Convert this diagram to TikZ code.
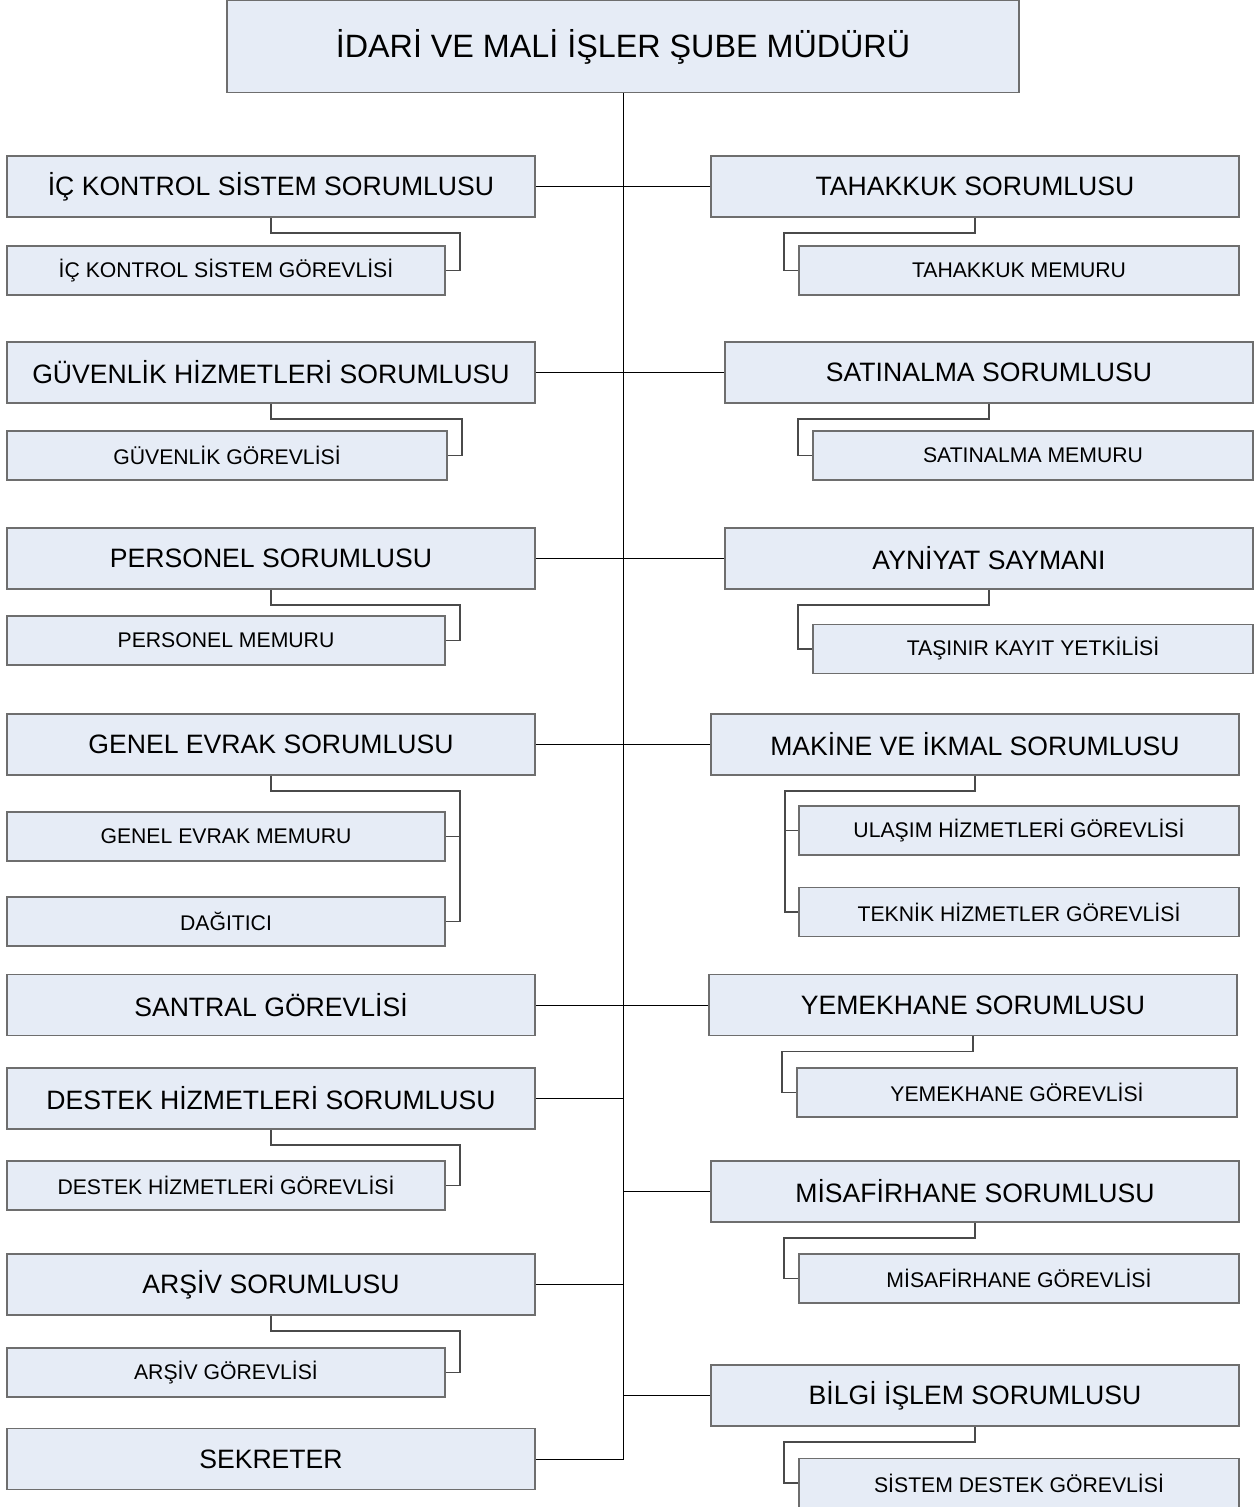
\documentclass[tikz,border=0pt]{standalone}
\usepackage{fontspec}
\setmainfont{Liberation Sans}
\definecolor{boxfill}{HTML}{E6ECF6}
\definecolor{boxline}{HTML}{6E6E6E}
\definecolor{connline}{HTML}{4A4A4A}
\begin{document}
\begin{tikzpicture}[x=1pt,y=-1pt,
  base/.style={draw=boxline,fill=boxfill,line width=1.6pt,inner sep=0pt,align=center},
  topbox/.style={base,minimum width=792pt,minimum height=92pt,font=\fontsize{32.3}{36}\selectfont},
  bigbox/.style={base,minimum width=528pt,minimum height=61pt,font=\fontsize{26.6}{30}\selectfont},
  smallbox/.style={base,minimum width=438pt,minimum height=49pt,font=\fontsize{21.2}{24}\selectfont},
  conn/.style={draw=connline,line width=1.5pt},
  trunk/.style={draw=black,line width=0.9pt}]
\useasboundingbox (0,0) rectangle (1254,1507);

% top
\node[topbox] (top) at (623,46.5) {İDARİ VE MALİ İŞLER ŞUBE MÜDÜRÜ};

% left column
\node[bigbox] (l1) at (271,186.5) {İÇ KONTROL SİSTEM SORUMLUSU};
\node[smallbox] (ls1) at (226,270.5) {İÇ KONTROL SİSTEM GÖREVLİSİ};
\node[bigbox] (l2) at (271,372.5) {GÜVENLİK HİZMETLERİ SORUMLUSU};
\node[smallbox,minimum width=440pt] (ls2) at (227,455.5) {GÜVENLİK GÖREVLİSİ};
\node[bigbox] (l3) at (271,558.5) {PERSONEL SORUMLUSU};
\node[smallbox] (ls3) at (226,640.5) {PERSONEL MEMURU};
\node[bigbox] (l4) at (271,744.5) {GENEL EVRAK SORUMLUSU};
\node[smallbox] (ls4a) at (226,836.5) {GENEL EVRAK MEMURU};
\node[smallbox] (ls4b) at (226,921.5) {DAĞITICI};
\node[bigbox] (l5) at (271,1005) {SANTRAL GÖREVLİSİ};
\node[bigbox] (l6) at (271,1098.5) {DESTEK HİZMETLERİ SORUMLUSU};
\node[smallbox] (ls6) at (226,1185.5) {DESTEK HİZMETLERİ GÖREVLİSİ};
\node[bigbox] (l7) at (271,1284.5) {ARŞİV SORUMLUSU};
\node[smallbox] (ls7) at (226,1372.5) {ARŞİV GÖREVLİSİ};
\node[bigbox] (l8) at (271,1459) {SEKRETER};

% right column
\node[bigbox] (r1) at (975,186.5) {TAHAKKUK SORUMLUSU};
\node[smallbox,minimum width=440pt] (rs1) at (1019,270.5) {TAHAKKUK MEMURU};
\node[bigbox] (r2) at (989,372.5) {SATINALMA SORUMLUSU};
\node[smallbox,minimum width=440pt] (rs2) at (1033,455.5) {SATINALMA MEMURU};
\node[bigbox] (r3) at (989,558.5) {AYNİYAT SAYMANI};
\node[smallbox,minimum width=440pt] (rs3) at (1033,649) {TAŞINIR KAYIT YETKİLİSİ};
\node[bigbox] (r4) at (975,744.5) {MAKİNE VE İKMAL SORUMLUSU};
\node[smallbox,minimum width=440pt] (rs4a) at (1019,830.5) {ULAŞIM HİZMETLERİ GÖREVLİSİ};
\node[smallbox,minimum width=440pt] (rs4b) at (1019,912) {TEKNİK HİZMETLER GÖREVLİSİ};
\node[bigbox] (r5) at (973,1005) {YEMEKHANE SORUMLUSU};
\node[smallbox,minimum width=440pt] (rs5) at (1017,1092.5) {YEMEKHANE GÖREVLİSİ};
\node[bigbox] (r6) at (975,1191.5) {MİSAFİRHANE SORUMLUSU};
\node[smallbox,minimum width=440pt] (rs6) at (1019,1278.5) {MİSAFİRHANE GÖREVLİSİ};
\node[bigbox] (r7) at (975,1395.5) {BİLGİ İŞLEM SORUMLUSU};
\node[smallbox,minimum width=440pt] (rs7) at (1019,1483) {SİSTEM DESTEK GÖREVLİSİ};

% trunk
\draw[trunk] (top.south) |- (l8.east);
\foreach \n in {l1,l2,l3,l4,l5,l6,l7}{
  \draw[trunk] (\n.east) -- (\n.east -| top.south);
}
\foreach \n in {r1,r2,r3,r4,r5,r6,r7}{
  \draw[trunk] (\n.west) -- (\n.west -| top.south);
}

% left sub connectors
\foreach \a/\b in {l1/ls1,l2/ls2,l3/ls3,l6/ls6,l7/ls7}{
  \draw[conn] (\a.south) -- ++(0,15) -| ([xshift=14pt]\b.east) -- (\b.east);
}
\draw[conn] (l4.south) -- ++(0,15) -| ([xshift=14pt]ls4b.east) -- (ls4b.east);
\draw[conn] ([xshift=14pt]ls4a.east) -- (ls4a.east);

% right sub connectors
\foreach \a/\b in {r1/rs1,r2/rs2,r3/rs3,r5/rs5,r6/rs6,r7/rs7}{
  \draw[conn] (\a.south) -- ++(0,15) -| ([xshift=-14pt]\b.west) -- (\b.west);
}
\draw[conn] (r4.south) -- ++(0,15) -| ([xshift=-13pt]rs4b.west) -- (rs4b.west);
\draw[conn] ([xshift=-13pt]rs4a.west) -- (rs4a.west);
\end{tikzpicture}
\end{document}
